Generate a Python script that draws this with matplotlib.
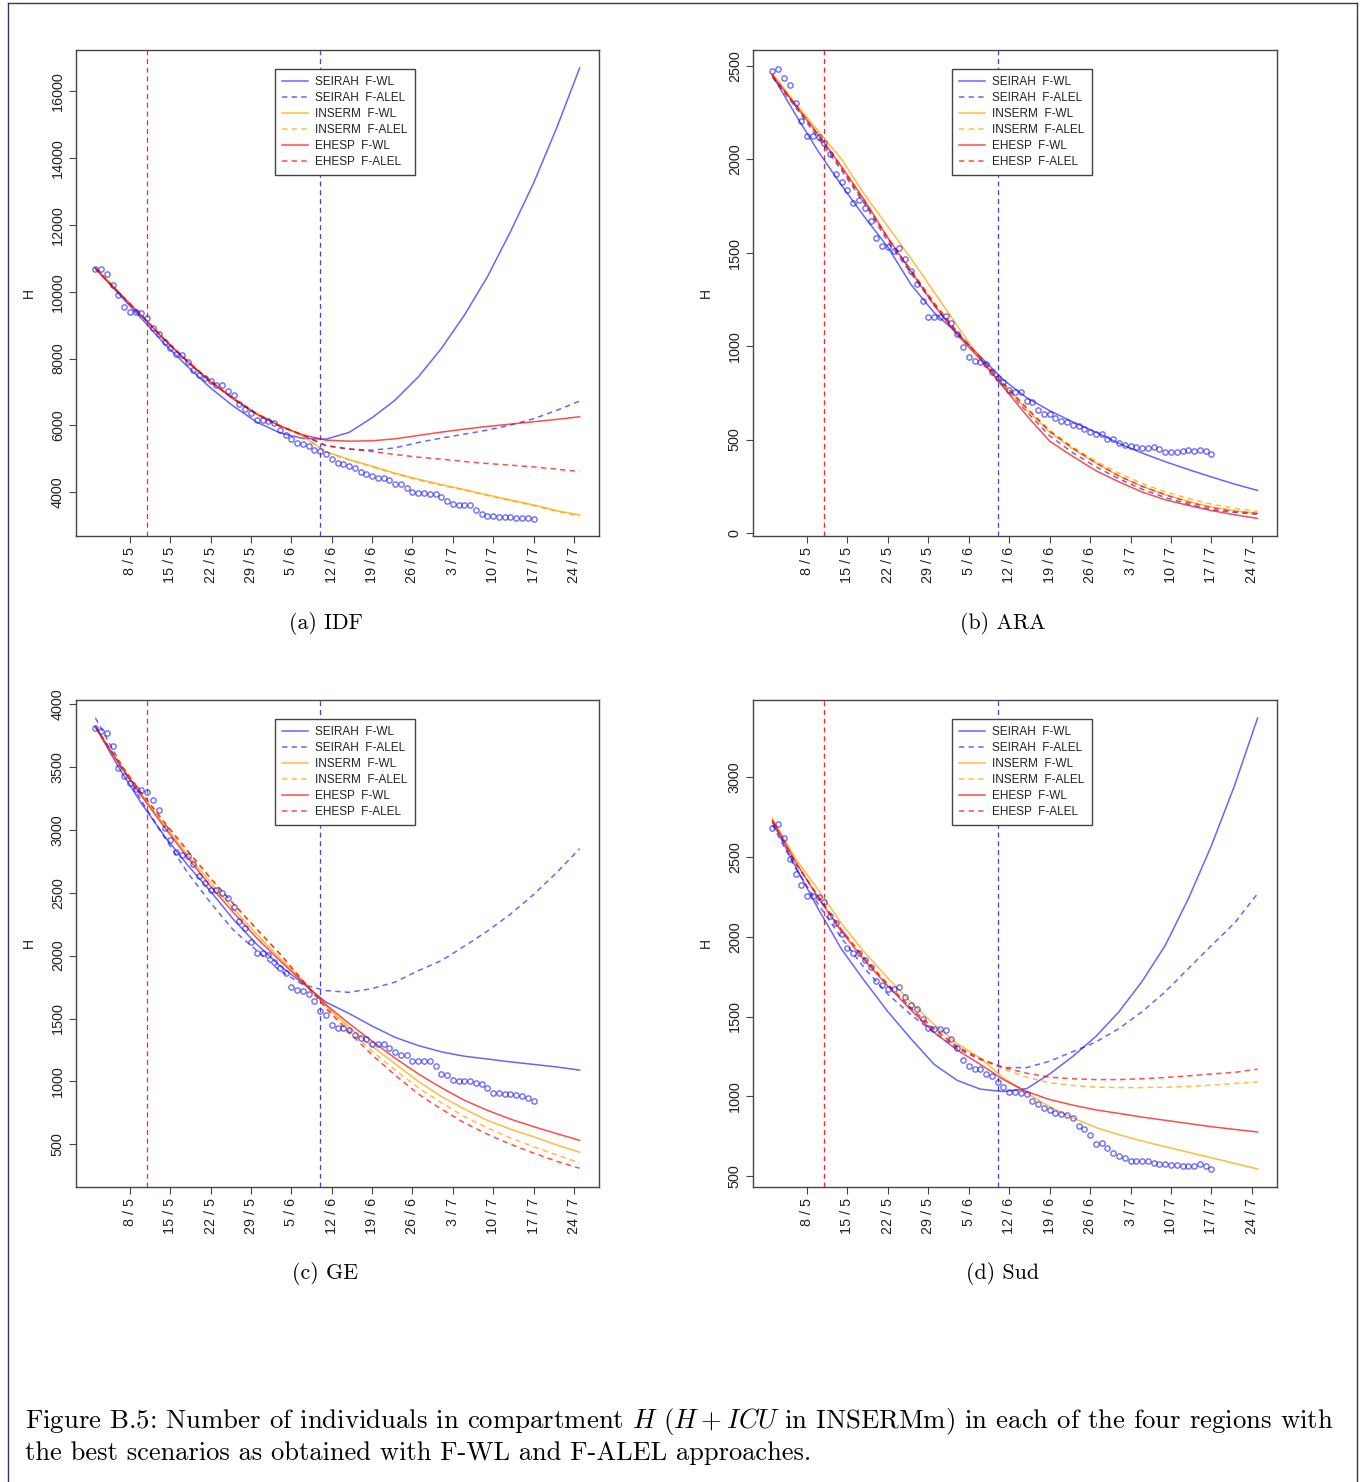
import matplotlib
matplotlib.use("Agg")
import matplotlib.pyplot as plt
from matplotlib.lines import Line2D

plt.rcParams['font.family'] = ['Liberation Sans', 'DejaVu Sans']
plt.rcParams['mathtext.fontset'] = 'cm'

# ---------------- data ----------------
# x values: days after 2 May (observations are daily, 2 May .. 17 Jul)
OBS_DAYS = list(range(77))
# model curves read every 4 days, 2 May .. 25 Jul
CURVE_DAYS = list(range(0, 85, 4))
TICK_DAYS = [6, 13, 20, 27, 34, 41, 48, 55, 62, 69, 76, 83]
TICK_LABELS = ["8 / 5", "15 / 5", "22 / 5", "29 / 5", "5 / 6", "12 / 6",
               "19 / 6", "26 / 6", "3 / 7", "10 / 7", "17 / 7", "24 / 7"]
RED_VLINE_DAY = 9    # 11 May
BLUE_VLINE_DAY = 39  # 10 June

SERIES_LABELS = ["SEIRAH  F-WL", "SEIRAH  F-ALEL", "INSERM  F-WL",
                 "INSERM  F-ALEL", "EHESP  F-WL", "EHESP  F-ALEL"]

# ---- (a) IDF ----
obs_a = [10690, 10670, 10540, 10210, 9910, 9540, 9410, 9390, 9360, 9210, 8930, 8740, 8510, 8310,
         8140, 8110, 7910, 7670, 7520, 7410, 7320, 7200, 7200, 7040, 6900, 6630, 6500, 6370, 6170,
         6150, 6130, 6080, 5870, 5720, 5600, 5470, 5430, 5390, 5270, 5220, 5140, 5010, 4880, 4840,
         4800, 4720, 4600, 4560, 4500, 4420, 4420, 4380, 4260, 4240, 4140, 4020, 3990, 3990, 3960,
         3940, 3860, 3730, 3640, 3630, 3630, 3630, 3480, 3360, 3300, 3280, 3260, 3260, 3250, 3240,
         3240, 3220, 3200]
seirah_wl_a = [10700, 9950, 9200, 8440, 7760, 7120, 6570, 6100, 5780, 5610, 5590, 5790, 6230, 6760,
               7450, 8300, 9300, 10450, 11800, 13250, 14900, 16700]
seirah_alel_a = [10700, 9990, 9290, 8570, 7910, 7310, 6790, 6340, 5980, 5700, 5390, 5290, 5260, 5330,
                 5490, 5620, 5740, 5860, 6010, 6200, 6450, 6730]
inserm_wl_a = [10720, 10000, 9300, 8580, 7930, 7330, 6810, 6360, 6000, 5680, 5210, 4980, 4780, 4570,
               4390, 4230, 4080, 3920, 3770, 3620, 3450, 3320]
inserm_alel_a = [10720, 10000, 9300, 8580, 7930, 7330, 6810, 6360, 6000, 5680, 5210, 4970, 4760, 4550,
                 4370, 4210, 4060, 3900, 3750, 3600, 3430, 3290]
ehesp_wl_a = [10700, 9980, 9280, 8560, 7900, 7300, 6780, 6330, 5980, 5720, 5560, 5530, 5540, 5600,
              5700, 5800, 5890, 5970, 6040, 6110, 6180, 6260]
ehesp_alel_a = [10700, 9990, 9290, 8570, 7920, 7320, 6800, 6350, 5990, 5710, 5400, 5300, 5220, 5130,
                5050, 4990, 4920, 4860, 4810, 4760, 4690, 4620]

# ---- (b) ARA ----
obs_b = [2475, 2484, 2437, 2396, 2300, 2205, 2127, 2124, 2118, 2086, 2027, 1922, 1879, 1834, 1768,
         1783, 1738, 1672, 1581, 1536, 1529, 1511, 1524, 1465, 1402, 1331, 1242, 1158, 1155, 1155,
         1162, 1126, 1067, 997, 941, 922, 917, 903, 862, 832, 810, 764, 755, 755, 708, 700, 658,
         637, 637, 614, 601, 594, 578, 574, 558, 541, 528, 528, 503, 503, 482, 471, 466, 459, 457,
         457, 459, 450, 435, 435, 432, 441, 444, 437, 444, 437, 424]
seirah_wl_b = [2450, 2240, 2040, 1860, 1690, 1530, 1330, 1180, 1070, 945, 820, 725, 655, 595, 540,
               480, 428, 382, 340, 300, 262, 228]
seirah_alel_b = [2440, 2280, 2110, 1940, 1760, 1560, 1390, 1220, 1070, 940, 790, 650, 520, 430, 355,
                 290, 235, 190, 155, 125, 110, 100]
inserm_wl_b = [2460, 2300, 2150, 2000, 1810, 1640, 1470, 1290, 1110, 930, 790, 660, 540, 450, 375,
               305, 250, 205, 170, 140, 120, 105]
inserm_alel_b = [2450, 2290, 2130, 1960, 1770, 1580, 1410, 1235, 1080, 940, 800, 670, 550, 460, 385,
                 320, 265, 220, 185, 155, 132, 116]
ehesp_wl_b = [2450, 2290, 2130, 1960, 1780, 1580, 1400, 1220, 1060, 930, 780, 630, 492, 410, 334,
              274, 220, 178, 148, 120, 98, 78]
ehesp_alel_b = [2450, 2290, 2125, 1950, 1770, 1575, 1405, 1230, 1075, 940, 800, 670, 545, 455, 375,
                305, 250, 205, 165, 135, 115, 105]

# ---- (c) GE ----
obs_c = [3811, 3790, 3767, 3666, 3496, 3430, 3369, 3324, 3316, 3302, 3234, 3160, 3019, 2921, 2825,
         2799, 2793, 2730, 2637, 2578, 2518, 2523, 2499, 2457, 2383, 2279, 2220, 2109, 2017, 2017,
         2009, 1950, 1900, 1858, 1749, 1727, 1722, 1695, 1637, 1563, 1526, 1452, 1428, 1428, 1409,
         1372, 1348, 1335, 1298, 1298, 1298, 1269, 1232, 1213, 1208, 1166, 1166, 1166, 1160, 1123,
         1059, 1049, 1011, 1005, 1005, 1005, 987, 980, 948, 908, 908, 900, 900, 890, 884, 868, 842]
seirah_wl_c = [3820, 3500, 3210, 2950, 2720, 2510, 2285, 2090, 1920, 1780, 1630, 1540, 1440, 1350,
               1285, 1235, 1200, 1178, 1155, 1135, 1115, 1090]
seirah_alel_c = [3890, 3560, 3230, 2940, 2660, 2420, 2200, 2040, 1880, 1770, 1722, 1708, 1738, 1790,
                 1880, 1960, 2075, 2195, 2330, 2485, 2660, 2850]
inserm_wl_c = [3820, 3540, 3280, 3040, 2800, 2580, 2370, 2170, 1980, 1800, 1600, 1430, 1280, 1140,
               1000, 880, 780, 690, 620, 560, 495, 437]
inserm_alel_c = [3820, 3545, 3290, 3055, 2830, 2610, 2410, 2210, 2015, 1800, 1590, 1410, 1240, 1090,
                 950, 830, 720, 630, 550, 480, 415, 352]
ehesp_wl_c = [3820, 3530, 3270, 3020, 2780, 2550, 2340, 2140, 1960, 1790, 1610, 1460, 1320, 1185,
              1060, 950, 850, 770, 700, 640, 585, 531]
ehesp_alel_c = [3820, 3545, 3295, 3060, 2835, 2615, 2410, 2210, 2015, 1800, 1580, 1390, 1210, 1050,
                900, 780, 670, 580, 500, 430, 365, 309]

# ---- (d) Sud ----
obs_d = [2683, 2704, 2620, 2484, 2394, 2324, 2257, 2257, 2249, 2219, 2131, 2089, 2016, 1929, 1900,
         1896, 1852, 1812, 1724, 1696, 1673, 1673, 1682, 1625, 1574, 1547, 1484, 1430, 1419, 1419,
         1415, 1358, 1302, 1229, 1193, 1172, 1172, 1141, 1126, 1088, 1057, 1029, 1029, 1018, 1015,
         972, 952, 930, 914, 893, 889, 884, 863, 813, 794, 758, 704, 710, 675, 643, 626, 616, 595,
         595, 595, 595, 584, 578, 574, 568, 568, 563, 563, 563, 574, 563, 546]
seirah_wl_d = [2720, 2440, 2170, 1920, 1720, 1530, 1360, 1200, 1100, 1045, 1030, 1048, 1140, 1250,
               1375, 1530, 1720, 1945, 2237, 2570, 2946, 3370]
seirah_alel_d = [2700, 2430, 2200, 1990, 1800, 1640, 1510, 1400, 1300, 1230, 1180, 1180, 1220, 1280,
                 1340, 1425, 1530, 1655, 1800, 1945, 2085, 2270]
inserm_wl_d = [2740, 2490, 2290, 2080, 1900, 1740, 1590, 1450, 1330, 1240, 1115, 1020, 935, 865,
               805, 760, 720, 685, 650, 615, 580, 545]
inserm_alel_d = [2720, 2460, 2250, 2045, 1865, 1705, 1555, 1425, 1315, 1235, 1170, 1120, 1085, 1068,
                 1058, 1055, 1055, 1057, 1062, 1070, 1080, 1090]
ehesp_wl_d = [2730, 2470, 2240, 2030, 1850, 1690, 1540, 1400, 1290, 1200, 1105, 1030, 980, 945,
              915, 893, 870, 850, 830, 810, 793, 777]
ehesp_alel_d = [2720, 2460, 2250, 2040, 1860, 1700, 1550, 1420, 1310, 1235, 1180, 1145, 1120, 1110,
                1105, 1105, 1110, 1118, 1128, 1140, 1150, 1170]

PANELS = [
    dict(title="(a) IDF", obs=obs_a,
         curves=[seirah_wl_a, seirah_alel_a, inserm_wl_a, inserm_alel_a, ehesp_wl_a, ehesp_alel_a],
         yticks=[4000, 6000, 8000, 10000, 12000, 14000, 16000], ylim=(2690, 17240)),
    dict(title="(b) ARA", obs=obs_b,
         curves=[seirah_wl_b, seirah_alel_b, inserm_wl_b, inserm_alel_b, ehesp_wl_b, ehesp_alel_b],
         yticks=[0, 500, 1000, 1500, 2000, 2500], ylim=(-16, 2586)),
    dict(title="(c) GE", obs=obs_c,
         curves=[seirah_wl_c, seirah_alel_c, inserm_wl_c, inserm_alel_c, ehesp_wl_c, ehesp_alel_c],
         yticks=[500, 1000, 1500, 2000, 2500, 3000, 3500, 4000], ylim=(160, 4033)),
    dict(title="(d) Sud", obs=obs_d,
         curves=[seirah_wl_d, seirah_alel_d, inserm_wl_d, inserm_alel_d, ehesp_wl_d, ehesp_alel_d],
         yticks=[500, 1000, 1500, 2000, 2500, 3000], ylim=(432, 3483)),
]

# ---------------- styles ----------------
BLUE = (0.0, 0.0, 1.0, 0.6)
ORANGE = (1.0, 0.65, 0.0, 0.75)
RED = (1.0, 0.0, 0.0, 0.7)
SERIES_STYLE = [(BLUE, '-'), (BLUE, '--'), (ORANGE, '-'), (ORANGE, '--'), (RED, '-'), (RED, '--')]
DASHES = (3.5, 2.8)
AXC = '#444444'

W, H = 1363, 1482
fig = plt.figure(figsize=(W / 100, H / 100), dpi=100)

def fx(px):
    return px / W

def fy(py):
    return 1 - py / H

boxes = [(76, 599, 50, 536), (753, 1277, 50, 536), (76, 599, 700, 1187), (753, 1277, 700, 1187)]
title_pos = [(326, 629), (1003, 629), (325, 1279), (1003, 1279)]

for p, (l, r, t, b), (tx, ty) in zip(PANELS, boxes, title_pos):
    ax = fig.add_axes([fx(l), fy(b), fx(r) - fx(l), fy(t) - fy(b)])
    handles = []
    for vals, (col, ls), lab in zip(p['curves'], SERIES_STYLE, SERIES_LABELS):
        ln, = ax.plot(CURVE_DAYS, vals, color=col, lw=1.1, ls=ls, label=lab, zorder=3)
        if ls == '--':
            ln.set_dashes(DASHES)
        handles.append(ln)
    ax.plot(OBS_DAYS, p['obs'], ls='none', marker='o', ms=3.8, mfc='none',
            mec=(0.05, 0.05, 1.0, 0.6), mew=1.0, zorder=4)
    vr = ax.axvline(RED_VLINE_DAY, color=(1, 0, 0, 0.85), lw=0.9, ls='--', zorder=2)
    vr.set_dashes((4, 3))
    vb = ax.axvline(BLUE_VLINE_DAY, color=(0, 0, 1, 0.75), lw=0.9, ls='--', zorder=2)
    vb.set_dashes((4, 3))

    ax.set_xlim(-3.36, 87.36)
    ax.set_ylim(*p['ylim'])
    ax.set_xticks(TICK_DAYS)
    ax.set_xticklabels(TICK_LABELS, rotation=90)
    ax.set_yticks(p['yticks'])
    ax.set_yticklabels([str(v) for v in p['yticks']], rotation=90, va='center')
    ax.tick_params(direction='out', length=5, width=0.8, color=AXC, labelcolor='#222222',
                   labelsize=10.4, pad=3)
    for s in ax.spines.values():
        s.set_color(AXC)
        s.set_linewidth(1.0)
    ax.set_ylabel('H', fontsize=10, color='#222222')
    ax.yaxis.set_label_coords(-0.076, 0.5)

    leg = ax.legend(handles=handles, loc='upper left', bbox_to_anchor=(0.38, 0.961),
                    borderaxespad=0, fontsize=8.5, frameon=True, fancybox=False,
                    edgecolor='#444444', framealpha=1, handlelength=2.2,
                    handletextpad=0.6, labelspacing=0.33, borderpad=0.62)
    leg.get_frame().set_linewidth(1.0)
    for txt in leg.get_texts():
        txt.set_color('#222222')

    fig.text(fx(tx), fy(ty), p['title'], family='cmr10', fontsize=15.8,
             ha='center', va='baseline')

fig.text(fx(25), fy(1428),
         r"Figure B.5: Number of individuals in compartment $H$ $(H + ICU$ in INSERMm$)$ in each of the four regions with",
         family='cmr10', fontsize=19.3, ha='left', va='baseline')
fig.text(fx(25), fy(1460),
         "the best scenarios as obtained with F-WL and F-ALEL approaches.",
         family='cmr10', fontsize=19.1, ha='left', va='baseline')

# outer frame
frame_col = '#2b3a5c'
fig.add_artist(Line2D([fx(8), fx(8)], [fy(3), fy(1482)], color=frame_col, lw=1.0))
fig.add_artist(Line2D([fx(1357), fx(1357)], [fy(3), fy(1482)], color=frame_col, lw=1.0))
fig.add_artist(Line2D([fx(8), fx(1357)], [fy(3), fy(3)], color=frame_col, lw=1.0))

fig.savefig("out.png", dpi=100)
